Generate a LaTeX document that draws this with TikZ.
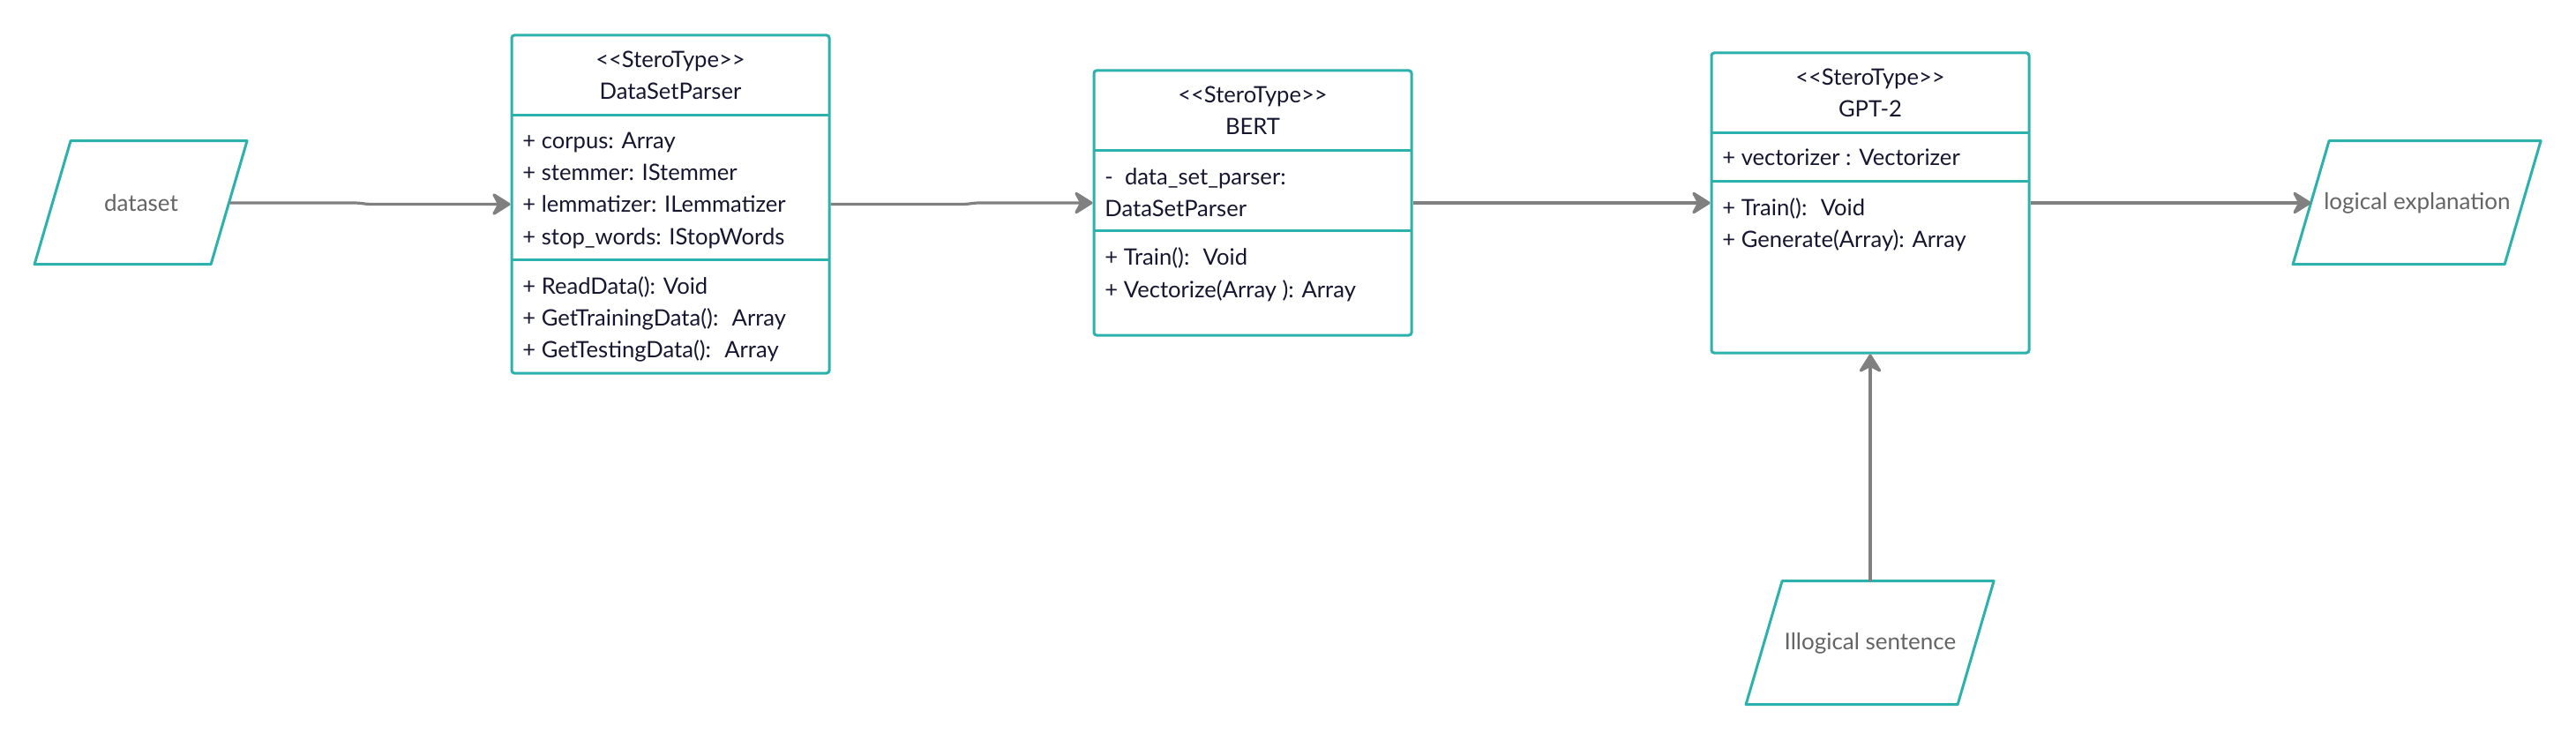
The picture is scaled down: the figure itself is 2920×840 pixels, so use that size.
\documentclass[tikz,border=0pt]{standalone}
\usepackage{fontspec}
\setmainfont{Lato}
\usetikzlibrary{arrows.meta}
\definecolor{tealline}{RGB}{44,177,172}
\definecolor{arrowgray}{RGB}{128,128,128}
\definecolor{txtdark}{RGB}{22,22,48}
\definecolor{txtgray}{RGB}{100,100,100}
\begin{document}
\begin{tikzpicture}[x=0.5pt,y=-0.5pt,
  classbox/.style={draw=tealline,line width=1.5pt,rounded corners=1.5pt,rectangle,inner sep=0pt,minimum width=180pt},
  io/.style={rectangle,inner sep=0pt,minimum height=70pt,font=\fontsize{13}{15}\selectfont,text=txtgray},
  pgram/.style={draw=tealline,line width=1.5pt,line join=round},
  divider/.style={draw=tealline,line width=1.5pt},
  hdr/.style={anchor=base,inner sep=0pt,font=\fontsize{12.8}{15}\selectfont,text=txtdark},
  member/.style={anchor=base west,inner sep=0pt,font=\fontsize{12.8}{15}\selectfont,text=txtdark},
  arr/.style={draw=arrowgray,line width=1.6pt,-{Stealth[length=12pt,width=15pt,inset=4pt,round]}}]
\fill[white] (0,0) rectangle (2920,840);
\useasboundingbox (0,0) rectangle (2920,840);

% input / output parallelograms
\node[io,minimum width=100pt] (dataset) at (160,230) {dataset};
\draw[pgram] (dataset.north west) ++(20.5,0) -- ++(200,0) -- ++(-41,140) -- ++(-200,0) -- cycle;
\node[io,minimum width=120pt] (logical) at (2740,230) {logical explanation};
\draw[pgram] (logical.north west) ++(20.5,0) -- ++(240,0) -- ++(-41,140) -- ++(-240,0) -- cycle;
\node[io,minimum width=120pt] (illogical) at (2120,729) {Illogical sentence};
\draw[pgram] (illogical.north west) ++(20.5,0) -- ++(240,0) -- ++(-41,140) -- ++(-240,0) -- cycle;

% DataSetParser
\node[classbox,minimum height=191.5pt] (dsp) at (760,231.5) {};
\draw[divider] (dsp.north west) ++(0,92) -- ++(360,0);
\draw[divider] (dsp.north west) ++(0,256) -- ++(360,0);
\node[hdr] (dspst) at (760,77) {<\kern0pt<SteroType>\kern0pt>};
\node[hdr] (dspname) at (760,113) {DataSetParser};
\node[member] (dspa1) at (592,169) {+ corpus: Array};
\node[member] (dspa2) at (592,205) {+ stemmer: IStemmer};
\node[member] (dspa3) at (592,241) {+ lemmatizer: ILemmatizer};
\node[member] (dspa4) at (592,277) {+ stop\_words: IStopWords};
\node[member] (dspm1) at (592,333) {+ ReadData(): Void};
\node[member] (dspm2) at (592,369) {+ GetTrainingData():~ Array};
\node[member] (dspm3) at (592,405) {+ GetTestingData():~ Array};

% BERT
\node[classbox,minimum height=150pt] (bert) at (1420,230) {};
\draw[divider] (bert.north west) ++(0,92) -- ++(360,0);
\draw[divider] (bert.north west) ++(0,183) -- ++(360,0);
\node[hdr] (bertst) at (1420,117) {<\kern0pt<SteroType>\kern0pt>};
\node[hdr] (bertname) at (1420,153) {BERT};
\node[member] (berta1) at (1252,209) {-~ data\_set\_parser:};
\node[member] (berta2) at (1252,245) {DataSetParser};
\node[member] (bertm1) at (1252,300) {+ Train():~ Void};
\node[member] (bertm2) at (1252,337) {+ Vectorize(Array~): Array};

% GPT-2
\node[classbox,minimum height=170pt] (gpt) at (2120,230) {};
\draw[divider] (gpt.north west) ++(0,92) -- ++(360,0);
\draw[divider] (gpt.north west) ++(0,147) -- ++(360,0);
\node[hdr] (gptst) at (2120,97) {<\kern0pt<SteroType>\kern0pt>};
\node[hdr] (gptname) at (2120,133) {GPT-2};
\node[member] (gpta1) at (1952,188) {+ vectorizer : Vectorizer};
\node[member] (gptm1) at (1952,244) {+ Train():~ Void};
\node[member] (gptm2) at (1952,280) {+ Generate(Array): Array};

% connectors
\draw[arr] (dataset.east) -- ++(142,0) to[out=0,in=180] ++(18,1.5) -- (dsp.west);
\draw[arr] (dsp.east) -- ++(150,0) to[out=0,in=180] ++(18,-1.5) -- (bert.west);
\draw[arr] (bert.east) -- (gpt.west);
\draw[arr] (gpt.east) -- (logical.west);
\draw[arr] (illogical.north) -- (gpt.south);
\end{tikzpicture}
\end{document}
